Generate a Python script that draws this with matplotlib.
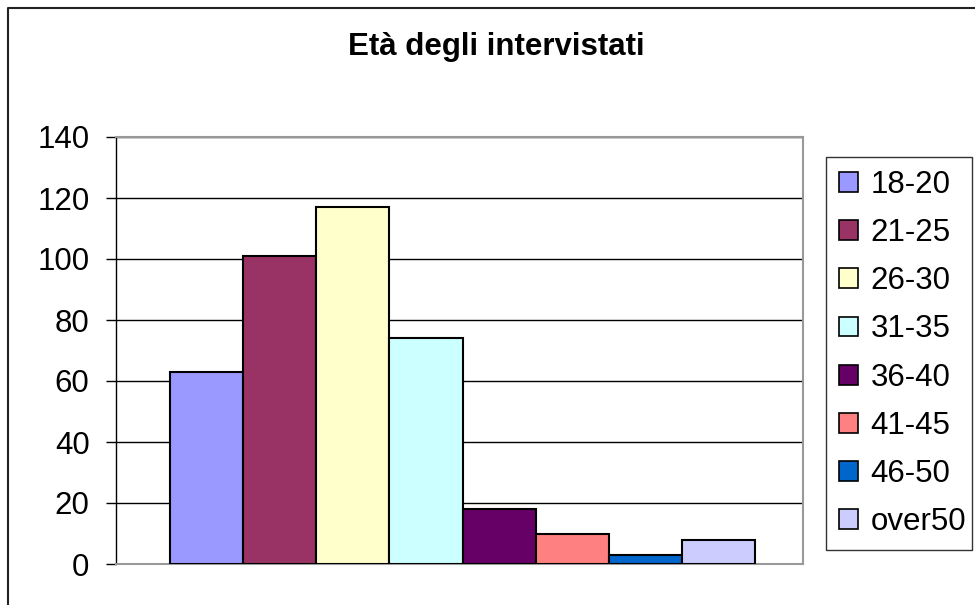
import matplotlib
matplotlib.use("Agg")
import matplotlib.pyplot as plt
from matplotlib.lines import Line2D
from matplotlib.patches import Patch

plt.rcParams['font.family'] = ['Liberation Sans', 'DejaVu Sans']

title = "Età degli intervistati"
categories = ["18-20", "21-25", "26-30", "31-35", "36-40", "41-45", "46-50", "over50"]
values = [63, 101, 117, 74, 18, 10, 3, 8]
colors = ["#9999FF", "#993366", "#FFFFCC", "#CCFFFF", "#660066", "#FF8080", "#0066CC", "#CCCCFF"]
yticks = [0, 20, 40, 60, 80, 100, 120, 140]

W, H = 975, 605
fig = plt.figure(figsize=(W / 100, H / 100), dpi=100)
fig.patch.set_facecolor("white")

# plot area in pixel coords
L, R, T, B = 116, 803, 137, 564
ax = fig.add_axes([L / W, 1 - B / H, (R - L) / W, (B - T) / H])

x = list(range(len(values)))
ax.bar(x, values, width=1.0, color=colors, edgecolor="black", linewidth=1.5, zorder=3)

ax.set_xlim(-0.5 - 54 / 73, len(values) - 0.5 + 48 / 73)
ax.set_ylim(0, 140)
ax.set_yticks(yticks)
ax.set_yticklabels([str(v) for v in yticks], fontsize=22.5)
ax.set_xticks([])
ax.yaxis.grid(True, color="black", linewidth=1.0, zorder=0)
ax.set_axisbelow(True)
ax.tick_params(axis="y", direction="out", length=7, width=1.0, pad=12, color="black")

for side in ["top", "right", "bottom"]:
    ax.spines[side].set_color("#999999")
    ax.spines[side].set_linewidth(1.5)
ax.spines["left"].set_color("black")
ax.spines["left"].set_linewidth(1.0)

fig.text(496 / W, 1 - 47 / H, title, ha="center", va="center",
         fontsize=22.5, fontweight="bold")

handles = [Patch(facecolor=c, edgecolor="black", linewidth=1.2) for c in colors]
leg = fig.legend(handles, categories, loc="upper left",
                 bbox_to_anchor=(826 / W, 1 - 157 / H, (972 - 826) / W, 0.0),
                 mode="expand", fontsize=22.5, frameon=True, fancybox=False,
                 edgecolor="black", borderaxespad=0, handlelength=0.6,
                 handleheight=0.6, handletextpad=0.4, labelspacing=0.58,
                 borderpad=0.42)
leg.get_frame().set_linewidth(1.0)

# outer chart border (top and left visible)
fig.add_artist(Line2D([8 / W, 8 / W, 1.0], [0.0, 1 - 8 / H, 1 - 8 / H],
                      transform=fig.transFigure, color="#222222", linewidth=1.5))

fig.savefig("out.png", dpi=100, facecolor="white")
